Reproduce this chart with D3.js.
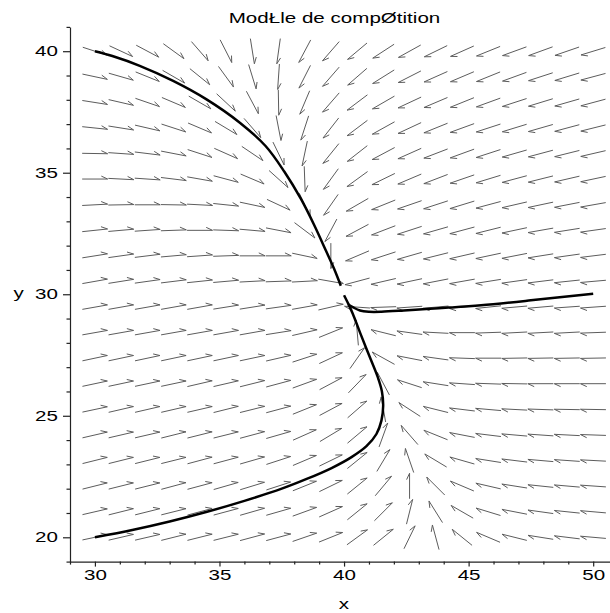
<!DOCTYPE html>
<html>
<head>
<meta charset="utf-8">
<script src="https://cdn.jsdelivr.net/npm/d3@7"></script>
<style>
  body { margin: 0; background: #fff; }
  svg { display: block; }
  text { font-family: "Liberation Sans", Arial, sans-serif; font-size: 14px; fill: #000; }
</style>
</head>
<body>
<svg id="chart" width="610" height="613"></svg>
<script>
// direction field grid (20 x 20)
const xGrid = [30, 31.05, 32.11, 33.16, 34.21, 35.26, 36.32, 37.37, 38.42, 39.47,
               40.53, 41.58, 42.63, 43.68, 44.74, 45.79, 46.84, 47.89, 48.95, 50];
const yGrid = [40, 38.95, 37.89, 36.84, 35.79, 34.74, 33.68, 32.63, 31.58, 30.53,
               29.47, 28.42, 27.37, 26.32, 25.26, 24.21, 23.16, 22.11, 21.05, 20];

// arrow directions in degrees (0 = right, 90 = up), one row per yGrid value
const angleRows = [
  [-18,-25,-28,-36,-49,-63,-81, -98,-118,-131,-140,-147,-151,-154, -156,-158,-160,-160,-161,-163],
  [-12,-16,-22,-30,-39,-54,-73, -94,-117,-131,-139,-148,-153,-156, -157,-158,-160,-162,-163,-165],
  [-9,-13,-19,-23,-30,-43,-62,  -89,-113,-131,-143,-150,-155,-157, -158,-160,-162,-163,-164,-165],
  [-6,-9,-13,-18,-23,-31,-49,   -79,-108,-128,-143,-151,-155,-158, -160,-162,-163,-164,-165,-166],
  [-1,-4,-7,-11,-18,-24,-34,    -64,-102,-129,-142,-152,-156,-159, -160,-162,-164,-165,-166,-167],
  [0,-3,-4,-7,-10,-15,-23,      -42,-88,-126,-144,-154,-157,-159,  -161,-163,-165,-166,-167,-168],
  [3,1,0,-1,-3,-6,-12,          -25,-65,-125,-150,-158,-161,-162,  -163,-165,-167,-168,-169,-170],
  [6,5,4,2,0,-2,-5,             -11,-37,-118,-152,-159,-162,-164,  -165,-166,-168,-170,-171,-172],
  [9,8,7,5,4,2,0,               0,-12,-90,-157,-162,-164,-166,     -167,-168,-169,-171,-172,-173],
  [10,9,8,7,6,5,3,              2,3,-10,-165,-167,-168,-169,       -170,-171,-172,-173,-174,-175],
  [10,10,10,10,10,9,9,          8,10,13,176,-178,-176,-175,        -174,-174,-175,-175,-176,-176],
  [10,10,10,10,10,10,10,        9,13,22,95,166,172,177,            180,-178,-177,-177,-177,-178],
  [12,12,12,12,12,12,12,        13,18,25,55,151,169,172,           178,180,-179,-179,-179,-179],
  [12,12,12,12,13,13,14,        15,20,28,46,118,162,171,           176,178,179,180,180,180],
  [12,13,13,13,13,14,14,        15,22,28,41,100,147,166,           173,175,177,178,179,179],
  [13,13,13,14,14,14,15,        16,24,31,40,70,131,158,            169,173,175,176,177,178],
  [14,14,14,14,15,15,16,        18,23,26,39,59,109,149,            164,171,173,175,176,177],
  [14,14,14,15,15,16,17,        18,22,26,39,50,90,135,             157,167,171,174,175,176],
  [13,14,14,14,15,15,16,        16,20,24,39,45,76,122,             150,163,169,172,174,175],
  [12,13,13,14,14,14,15,        15,19,22,36,39,64,105,             141,157,166,171,173,175]
];

// solution curves
const curveTop = [[30,40],[30.7,39.8],[31.8,39.4],[33.14,38.78],[34.48,38.02],[35.83,37.05],
  [36.85,36.1],[37.6,35.05],[38.27,33.92],[38.8,32.85],[39.27,31.8],[39.6,31.05],[39.87,30.35]];
const curveBottom = [[30,20],[31.5,20.3],[33,20.65],[34.5,21.05],[36,21.5],[37.5,22.0],
  [38.5,22.4],[39.5,22.85],[40.3,23.3],[40.9,23.75],[41.3,24.25],[41.5,24.8],[41.57,25.4],
  [41.52,26.0],[41.35,26.6],[41.0,27.5],[40.65,28.4],[40.35,29.2],[40.15,29.65],[40.0,29.96]];
const curveRight = [[50,30.02],[47.5,29.75],[45.5,29.55],[44.2,29.45],[43.45,29.4],[42.4,29.33],
  [41.5,29.28],[41.0,29.28],[40.64,29.33],[40.35,29.47],[40.17,29.58]];

const xMajor = [30, 35, 40, 45, 50];
const yMajor = [20, 25, 30, 35, 40];
const xMinor = [29,31,32,33,34,36,37,38,39,41,42,43,44,46,47,48,49,51];
const yMinor = [19,21,22,23,24,26,27,28,29,31,32,33,34,36,37,38,39,41];

const stretch = 1.47; // text in the picture is drawn wide

const svg = d3.select('#chart');
const x = d3.scaleLinear().domain([29, 51]).range([70, 618.1]);
const y = d3.scaleLinear().domain([19, 41]).range([561.6, 26.9]);

// arrows
const arrowLen = 25.5, barbLen = 7, barbAng = 25;
const arrows = [];
yGrid.forEach((yv, j) => xGrid.forEach((xv, i) => arrows.push({ x: xv, y: yv, a: angleRows[j][i] })));

const rad = d => d * Math.PI / 180;
svg.append('g')
  .attr('fill', 'none')
  .attr('stroke', '#5c5c5c')
  .attr('stroke-width', 1)
  .selectAll('path')
  .data(arrows)
  .join('path')
  .attr('d', d => {
    const cx = x(d.x), cy = y(d.y);
    const ux = Math.cos(rad(d.a)), uy = -Math.sin(rad(d.a));
    const tx = cx - ux * arrowLen / 2, ty = cy - uy * arrowLen / 2;
    const hx = cx + ux * arrowLen / 2, hy = cy + uy * arrowLen / 2;
    const b = rad(d.a + 180 - barbAng);
    const bx = hx + barbLen * Math.cos(b), by = hy - barbLen * Math.sin(b);
    return `M${tx},${ty}L${hx},${hy}M${hx},${hy}L${bx},${by}`;
  });

// curves
const line = d3.line().x(d => x(d[0])).y(d => y(d[1])).curve(d3.curveCatmullRom.alpha(0.5));
svg.append('g')
  .attr('fill', 'none')
  .attr('stroke', '#000')
  .attr('stroke-width', 2.5)
  .selectAll('path')
  .data([curveTop, curveBottom, curveRight])
  .join('path')
  .attr('d', line);

// axes
const axisColor = '#222';
function styleAxis(g) {
  g.selectAll('path,line').attr('stroke', axisColor).attr('stroke-width', 1.2);
}

svg.append('g').attr('transform', `translate(0,${y(19)})`)
  .call(d3.axisBottom(x).tickValues(xMinor).tickSize(3).tickFormat(''))
  .call(g => g.select('.domain').remove())
  .call(styleAxis);
const gx = svg.append('g').attr('transform', `translate(0,${y(19)})`)
  .call(d3.axisBottom(x).tickValues(xMajor).tickSize(5).tickSizeOuter(0).tickPadding(3))
  .call(styleAxis);
gx.selectAll('.tick text').attr('transform', `scale(${stretch},1)`)
  .style('font-size', '14px').attr('fill', '#000');

svg.append('g').attr('transform', `translate(${x(29)},0)`)
  .call(d3.axisLeft(y).tickValues(yMinor).tickSize(3.5).tickFormat(''))
  .call(g => g.select('.domain').remove())
  .call(styleAxis);
const gy = svg.append('g').attr('transform', `translate(${x(29)},0)`)
  .call(d3.axisLeft(y).tickValues(yMajor).tickSize(7).tickSizeOuter(0))
  .call(styleAxis);
gy.selectAll('.tick text').attr('x', -12 / stretch).attr('transform', `scale(${stretch},1)`)
  .style('font-size', '14px').attr('fill', '#000');
svg.selectAll('.tick text').attr('font-family', null);

// labels
function wideText(tx, ty, str) {
  svg.append('text')
    .attr('transform', `translate(${tx},${ty}) scale(${stretch},1)`)
    .attr('text-anchor', 'middle')
    .text(str);
}
wideText(334.5, 23, 'ModŁle de compØtition');
wideText(344, 609, 'x');
wideText(18.7, 298, 'y');
</script>
</body>
</html>
